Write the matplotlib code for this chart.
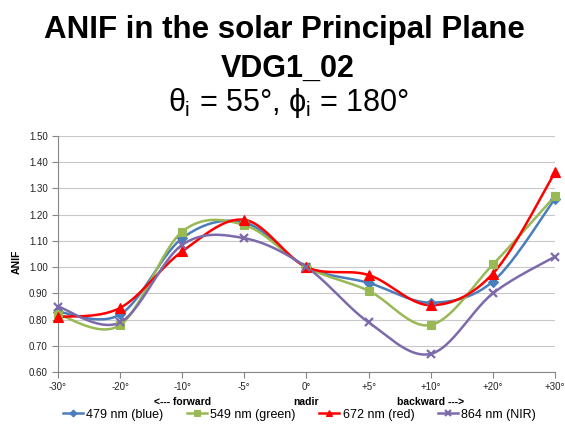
import numpy as np
import matplotlib
matplotlib.use("Agg")
import matplotlib.pyplot as plt
from matplotlib.lines import Line2D

plt.rcParams['font.family'] = ['Liberation Sans', 'DejaVu Sans']
plt.rcParams['mathtext.fontset'] = 'custom'
plt.rcParams['mathtext.rm'] = 'Liberation Sans'
plt.rcParams['mathtext.it'] = 'Liberation Sans'

# view angles (categorical axis)
angles = ['-30°', '-20°', '-10°', '-5°', '0°', '+5°', '+10°', '+20°', '+30°']

# ANIF per band
anif_blue = [0.83, 0.82, 1.11, 1.17, 1.00, 0.94, 0.865, 0.945, 1.26]
anif_green = [0.82, 0.78, 1.135, 1.16, 1.00, 0.91, 0.78, 1.01, 1.27]
anif_red = [0.81, 0.845, 1.06, 1.18, 1.00, 0.97, 0.855, 0.975, 1.36]
anif_nir = [0.85, 0.79, 1.085, 1.11, 1.00, 0.79, 0.67, 0.90, 1.04]

series = [
    ('479 nm (blue)', anif_blue, '#4A7EBB', 'D', 5),
    ('549 nm (green)', anif_green, '#98B954', 's', 5.5),
    ('672 nm (red)', anif_red, '#FF0000', '^', 6.5),
    ('864 nm (NIR)', anif_nir, '#7D6AAA', 'x', 6),
]


def smooth_curve(x, y, n=30):
    """Excel-style smoothed line: cubic Bezier segments with Catmull-Rom control points."""
    x = np.asarray(x, float)
    y = np.asarray(y, float)
    px = np.concatenate([[x[0]], x, [x[-1]]])
    py = np.concatenate([[y[0]], y, [y[-1]]])
    t = np.linspace(0, 1, n)[:, None]
    xs, ys = [], []
    for i in range(1, len(px) - 2):
        p0 = np.array([px[i], py[i]])
        p3 = np.array([px[i + 1], py[i + 1]])
        c1 = p0 + (np.array([px[i + 1], py[i + 1]]) - np.array([px[i - 1], py[i - 1]])) / 6
        c2 = p3 - (np.array([px[i + 2], py[i + 2]]) - np.array([px[i], py[i]])) / 6
        pts = ((1 - t) ** 3) * p0 + 3 * ((1 - t) ** 2) * t * c1 + 3 * (1 - t) * t ** 2 * c2 + t ** 3 * p3
        xs.append(pts[:, 0])
        ys.append(pts[:, 1])
    return np.concatenate(xs), np.concatenate(ys)


fig = plt.figure(figsize=(5.65, 4.32), dpi=100)
ax = fig.add_axes([0.1027, 0.1382, 0.8795, 0.5478])

xpos = np.arange(len(angles))
handles = []
for label, vals, color, marker, ms in series:
    sx, sy = smooth_curve(xpos, vals)
    ax.plot(sx, sy, color=color, lw=1.8, clip_on=False, zorder=3)
    mew = 1.6 if marker == 'x' else 0.8
    ax.plot(xpos, vals, linestyle='none', marker=marker, ms=ms, color=color,
            markeredgewidth=mew, clip_on=False, zorder=4)
    handles.append(Line2D([0], [0], color=color, lw=1.8, marker=marker, ms=ms - 1.5,
                          markeredgewidth=mew))

ax.set_xlim(0, len(angles) - 1)
ax.set_ylim(0.60, 1.50)
ax.set_yticks(np.arange(0.60, 1.501, 0.10))
ax.set_yticklabels([f'{v:.2f}' for v in np.arange(0.60, 1.501, 0.10)])
ax.set_xticks(xpos)
ax.set_xticklabels(angles)
ax.tick_params(axis='both', labelsize=7, colors='#222222', length=4, width=0.8)
ax.tick_params(axis='x', pad=3)
ax.tick_params(axis='both', color='#868686')
ax.grid(axis='y', color='#C8C8C8', lw=0.8)
ax.set_axisbelow(True)
for side in ['top', 'right']:
    ax.spines[side].set_visible(False)
for side in ['left', 'bottom']:
    ax.spines[side].set_color('#868686')
    ax.spines[side].set_linewidth(0.8)

fig.text(0.030, 0.395, 'ANIF', rotation=90, ha='center', va='center',
         fontsize=7.5, fontweight='bold')

# direction labels under the angle axis
for idx, txt in [(2, '<--- forward'), (4, 'nadir'), (6, 'backward --->')]:
    ax.annotate(txt, xy=(idx, 0), xycoords=('data', 'axes fraction'),
                xytext=(0, -21.5), textcoords='offset points', ha='center', va='center',
                fontsize=7.5, fontweight='bold')

fig.legend(handles, [s[0] for s in series], loc='center', bbox_to_anchor=(0.53, 0.040),
           ncol=4, frameon=False, fontsize=9, handlelength=1.6, handletextpad=0.25,
           columnspacing=1.9, borderpad=0.1)

fig.text(0.503, 0.912, 'ANIF in the solar Principal Plane', ha='center', va='baseline',
         fontsize=22.5, fontweight='bold')
fig.text(0.51, 0.822, 'VDG1_02', ha='center', va='baseline', fontsize=22, fontweight='bold')
fig.text(0.51, 0.743, r'$\theta_\mathrm{i}$ = 55°, $\phi_\mathrm{i}$ = 180°', ha='center',
         va='baseline', fontsize=22)

fig.savefig('out.png', dpi=100, facecolor='white')
